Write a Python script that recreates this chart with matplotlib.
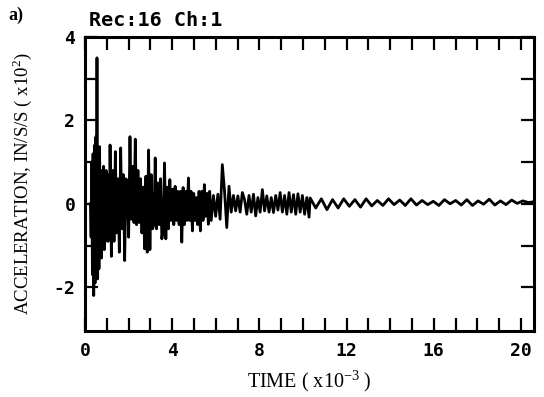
import numpy as np
import matplotlib
matplotlib.use("Agg")
import matplotlib.pyplot as plt

plt.rcParams['mathtext.fontset'] = 'custom'
plt.rcParams['mathtext.rm'] = 'Liberation Serif'

# acceleration trace, in pieces of even sampling
# (start time, end time, values)  time in ms (x1e-3), accel in in/s/s (x1e2)
seg_a_time = (0.25, 1.15)
seg_a_vals = [0.0, -0.8, 1.0, -1.7, 1.2, -2.2, 1.4, -1.9, 1.6, -1.5,
              3.5, -1.8, 1.1, -1.56, 1.37, -1.2, 0.8, -1.3, 0.7, -1.0,
              0.9, -1.1, 0.6, -0.9, 0.8, -0.8, 0.6, -0.9, 0.7, -0.7, 1.41]

seg_b_time = (1.21, 5.72)
seg_b_vals = [-1.26, 0.8, -0.9, 1.25, -0.7, 0.6, -1.16, 1.34, -0.6, 0.7,
              -1.36, 0.6, 0.5, -0.8, 1.61, -0.37, 0.9, -0.45, 1.55, -0.5,
              0.8, -0.45, 0.6, -0.7, 0.4, -1.08, 0.66, -1.16, 1.29, -1.1,
              0.7, -0.6, -0.5, 1.1, -0.6, 0.5, -0.5, 0.6, -0.84, -0.6,
              0.98, -0.84, 0.4, -0.6, 0.58, -0.4, 0.35, -0.5, 0.42, -0.4,
              0.3, -0.5, 0.3, -0.92, 0.39, -0.5, 0.3, -0.4, 0.62, -0.4,
              0.3, -0.65, 0.25, -0.4, 0.15, -0.5, 0.3, -0.65, 0.3, -0.4,
              0.46, -0.3, 0.25, -0.49, 0.3]

seg_c_time = (5.79, 10.28)
seg_c_vals = [-0.4, 0.2, -0.3, 0.23, -0.37, 0.94, 0.3, -0.57, 0.42, -0.2,
              0.2, -0.17, 0.19, -0.2, 0.27, 0.1, -0.25, 0.2, -0.2, 0.23,
              -0.29, 0.15, -0.2, 0.34, -0.17, 0.19, -0.2, 0.15, -0.21, 0.2,
              -0.15, 0.27, -0.2, 0.2, -0.25, 0.27, -0.2, 0.22, -0.25, 0.24,
              -0.2, 0.2, -0.25, 0.15, -0.32]

seg_d_time = (10.33, 20.6)
seg_d_vals = [0.14, -0.1, 0.12, -0.14, 0.1, -0.1, 0.12, -0.06, 0.1, -0.08,
              0.12, -0.05, 0.08, -0.04, 0.12, -0.02, 0.09, -0.04, 0.12, -0.03,
              0.08, -0.02, 0.06, -0.04, 0.1, 0.0, 0.08, -0.03, 0.1, -0.04,
              0.07, -0.01, 0.11, -0.03, 0.07, -0.02, 0.09, 0.01, 0.07, 0.03, 0.05]

segments = [(seg_a_time, seg_a_vals), (seg_b_time, seg_b_vals),
            (seg_c_time, seg_c_vals), (seg_d_time, seg_d_vals)]

x_ticks = [0, 4, 8, 12, 16, 20]
x_labels = ['0', '4', '8', '12', '16', '20']
y_ticks = [-2, 0, 2, 4]
y_labels = ['-2', '0', '2', '4']

t = np.concatenate([np.linspace(a, b, len(v)) for (a, b), v in segments])
acc = np.concatenate([np.array(v) for _, v in segments])

fig = plt.figure(figsize=(5.44, 3.97), dpi=100)
ax = fig.add_axes([85/544, 66/397, 449/544, 294/397])

ax.plot(t, acc, color='black', lw=2.0, solid_joinstyle='round')

ax.set_xlim(0, 20.6)
ax.set_ylim(-3.05, 4.0)

mono = dict(family='DejaVu Sans Mono', weight='bold', size=13)
ax.set_xticks(x_ticks)
ax.set_xticklabels(x_labels, fontdict=mono)
ax.set_xticks(range(1, 21), minor=True)
ax.set_yticks(y_ticks)
ax.set_yticklabels(y_labels, fontdict=mono)
ax.set_yticks([-1, 1, 3], minor=True)
ax.tick_params(which='both', direction='in', top=True, right=True,
               length=9.5, width=1.6, color='black')
ax.tick_params(axis='x', pad=8)
ax.tick_params(axis='y', pad=7)
for s in ax.spines.values():
    s.set_linewidth(2.2)

ax.set_xlabel(r'TIME ( x10$^{\mathrm{-3}}$ )', family='Liberation Serif',
              fontsize=14.5, labelpad=6)
ax.set_ylabel(r'ACCELERATION, IN/S/S ( x10$^{\mathrm{2}}$)',
              family='Liberation Serif', fontsize=13.5, labelpad=14)

fig.text(89/544, 1 - 26/397, 'Rec:16 Ch:1', family='DejaVu Sans Mono',
         weight='bold', fontsize=14.5, va='baseline')
fig.text(8/544, 1 - 20/397, 'a)', family='Liberation Serif',
         weight='bold', fontsize=13, va='baseline')

fig.savefig('out.png', dpi=100)
